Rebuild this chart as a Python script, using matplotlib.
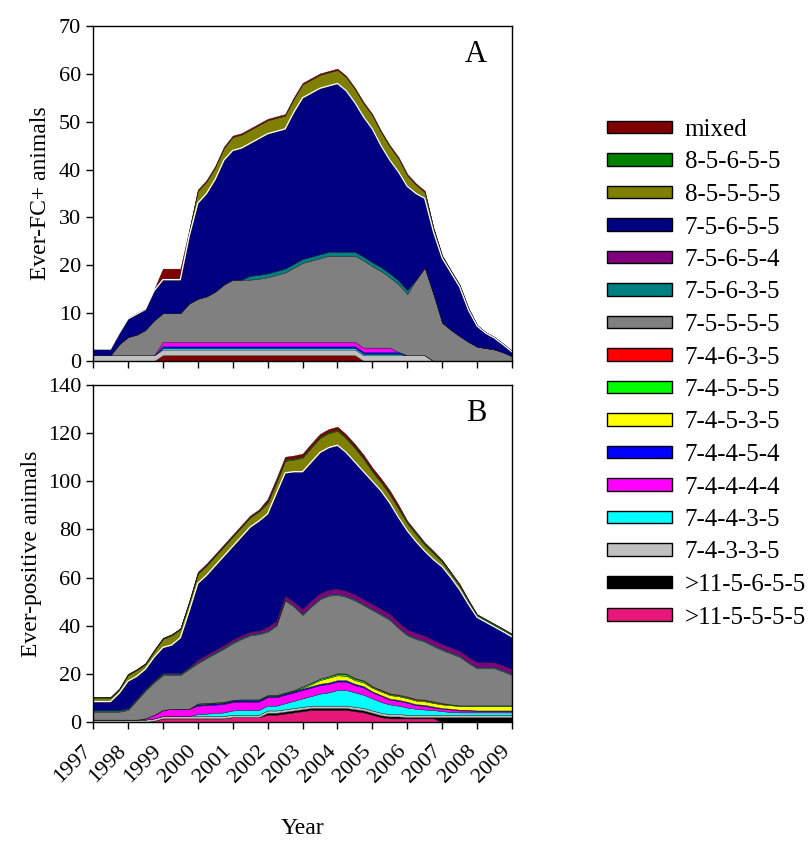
import numpy as np
import matplotlib
matplotlib.use("Agg")
import matplotlib.pyplot as plt
from matplotlib.patches import Patch
from matplotlib.transforms import ScaledTranslation

plt.rcParams['font.family'] = ['Liberation Serif', 'DejaVu Serif']

# quarterly time points 1997.00 ... 2009.00
quarters = np.linspace(1997, 2009, 49)
year_ticks = list(range(1997, 2010))

# legend (top to bottom) and colours
labels = ["mixed", "8-5-6-5-5", "8-5-5-5-5", "7-5-6-5-5", "7-5-6-5-4", "7-5-6-3-5",
          "7-5-5-5-5", "7-4-6-3-5", "7-4-5-5-5", "7-4-5-3-5", "7-4-4-5-4", "7-4-4-4-4",
          "7-4-4-3-5", "7-4-3-3-5", ">11-5-6-5-5", ">11-5-5-5-5"]
colors = ["#800000", "#008000", "#808000", "#000080", "#800080", "#008080",
          "#808080", "#ff0000", "#00ff00", "#ffff00", "#0000ff", "#ff00ff",
          "#00ffff", "#c0c0c0", "#000000", "#e8187a"]
col = dict(zip(labels, colors))

# ---- Panel A : Ever-FC+ animals (stack layers, bottom to top) ----
a_mixed_low = [0]*8 + [1.2]*23 + [0]*18
a_7_4_3_3_5 = [1.2]*39 + [0]*10
a_7_4_4_3_5 = [0]*8 + [0.3]*28 + [0]*13
a_7_4_4_5_4 = [0]*8 + [0.4]*28 + [0]*13
a_7_4_4_4_4 = [0]*8 + [0.9]*27 + [0]*14
a_7_5_5_5_5 = [0, 0, 0, 2.3, 3.8, 4.3, 5.3, 7.3, 6.0, 6.0, 6.0, 8.0,
               9.0, 9.5, 10.5, 12.0, 13.0, 13.0, 13.0, 13.2, 13.5, 14.0, 14.5, 15.5,
               16.5, 17.0, 17.5, 18.0, 18.0, 18.0, 18.0, 18.2, 17.0, 16.0, 14.7, 14.1,
               12.8, 15.8, 18.3, 14.0, 8.0, 6.5, 5.2, 4.0, 3.0, 2.7, 2.4, 1.8, 1.0]
a_7_5_6_3_5 = [0]*18 + [0.8]*19 + [0]*12
a_7_5_6_5_5 = [1.3, 1.3, 1.3, 2.3, 3.8, 4.3, 4.3, 6.2, 7.0, 7.0, 7.0, 14.0,
               20.0, 21.5, 23.5, 26.0, 27.0, 27.5, 27.7, 28.5, 29.2, 29.2, 29.2, 31.7,
               33.7, 34.2, 34.7, 34.7, 35.2, 33.7, 31.2, 29.2, 27.9, 25.4, 23.7, 22.7,
               21.7, 18.0, 14.5, 13.0, 13.5, 12.0, 10.3, 6.7, 4.3, 3.1, 2.4, 1.6, 0.9]
a_8_5_5_5_5 = ([0, 0, 0, 0.2, 0.2, 0.2, 0.2, 0.3, 0.3, 0.3, 0.3, 1.0,
                2.5, 2.5, 2.5, 2.5] + [2.8]*20 +
               [2.3, 1.8, 1.3, 0.8, 0.5, 0.4, 0.4, 0.4, 0.2, 0.2, 0.2, 0.2, 0.2])
a_mixed_top = [0]*8 + [2.0]*3 + [0.3]*28 + [0]*10

# ---- Panel B : Ever-positive animals (stack layers, bottom to top) ----
b_11_5_5_5_5 = [0, 0, 0, 0, 0, 0, 0, 0.5, 1.5, 1.5, 1.5, 1.5,
                1.5, 1.5, 1.5, 1.5, 2, 2, 2, 2, 3, 3, 3.5, 4,
                4.5, 5, 5, 5, 5, 5, 4.5, 4, 3, 2, 1.5, 1.5,
                1.5, 1.5, 1.5, 1.5, 0, 0, 0, 0, 0, 0, 0, 0, 0]
b_11_5_6_5_5 = [0]*20 + [0.8]*16 + [0.5]*4 + [2.0]*9
b_7_4_3_3_5 = [1.0]*49
b_7_4_4_3_5 = [0]*12 + [0.8, 1, 1.2, 1.5, 1.8, 2, 2, 2, 2, 2, 2.5, 3,
                        3.5, 4, 5, 5.5, 6.5, 6.5, 6, 5.5, 5, 4.5, 4, 3.5,
                        3, 2.5, 2.2, 2, 1.5, 1.2, 1, 1, 1, 1, 1, 1, 1]
b_7_4_4_4_4 = [0, 0, 0, 0, 0, 0, 0.5, 1.5, 2.5, 3, 3, 3,
               3.5, 3.5, 3.5, 3.5, 3.5, 3.5, 3.5, 3.5, 3.5, 3.5, 3.5, 3.5,
               3.5, 3.5, 3.5, 3.5, 3.5, 3.5, 3, 3, 2.5, 2.5, 2, 2,
               2, 1.5, 1.5, 1, 1, 1, 0.8, 0.8, 0.5, 0.5, 0.5, 0.5, 0.5]
b_7_4_4_5_4 = [0]*12 + [0.6]*20 + [0.4]*8 + [0.3]*9
b_7_4_5_3_5 = [0]*24 + [0.3, 0.8, 1.5, 2, 2, 1.8, 1.5, 1.5, 1.5, 1.5, 1.5, 1.5,
                        1.5, 1.5, 1.5, 1.5, 1.5, 1.5, 1.5, 1.5, 1.8, 1.8, 1.8, 1.8, 1.8]
b_7_4_5_5_5 = [0]*12 + [0.3]*12 + [0.6]*8 + [0.4]*8 + [0.3]*9
b_7_4_6_3_5 = [0]*28 + [0.3]*13 + [0]*8
b_7_5_5_5_5 = [3.3, 3.3, 3.3, 3.3, 4.0, 8.0, 11.5, 13.5, 14.5, 14.0, 14.0, 16.5,
               16.7, 18.6, 20.4, 22.1, 23.5, 25.1, 26.6, 27.1, 26.3, 28.8, 38.3, 34.8,
               29.7, 31.7, 33.0, 33.5, 32.5, 31.9, 32.2, 31.2, 31.6, 31.1, 30.5, 27.6,
               25.4, 24.9, 24.1, 22.9, 22.0, 21.2, 20.2, 17.6, 15.4, 15.4, 15.4, 14.1, 12.6]
b_7_5_6_3_5 = [0.5]*49
b_7_5_6_5_4 = [0.3]*12 + [1.0]*8 + [1.5]*4 + [2.0]*25
b_7_5_6_5_5 = [3.4, 3.4, 3.4, 6.9, 11.2, 9.2, 8.2, 9.7, 10.7, 11.7, 14.7, 23.2,
               31.7, 33.0, 35.0, 37.0, 38.8, 41.0, 43.5, 45.5, 47.0, 53.0, 51.0, 54.0,
               57.0, 57.5, 58.5, 59.0, 59.7, 57.5, 55.0, 53.0, 51.0, 49.0, 46.1, 43.5,
               41.0, 38.0, 35.1, 33.5, 32.1, 29.0, 25.4, 22.0, 18.7, 16.7, 14.7, 14.0, 13.4]
b_8_5_5_5_5 = [1.5, 1.5, 1.5, 1.5, 2.5, 2.5, 2, 2.5, 3.5, 4, 3.5, 3.5,
               4, 4, 4, 4, 4, 4, 4, 4, 4.5, 4.5, 5, 5,
               5.8, 6, 6, 6, 6, 5.8, 5.8, 5.3, 4, 3.5, 3.5, 3.5,
               3, 3, 2.5, 2.5, 2, 1.5, 1.5, 1, 0.5, 0.5, 0.5, 0.5, 0.5]
b_8_5_6_5_5 = [0.3]*20 + [0.5]*16 + [0.6]*13
b_mixed = [0.1]*4 + [0.2]*8 + [0.5]*8 + [1.2]*16 + [0.5]*4 + [0.2]*9

layers_a = [(a_mixed_low, "mixed"), (a_7_4_3_3_5, "7-4-3-3-5"), (a_7_4_4_3_5, "7-4-4-3-5"),
            (a_7_4_4_5_4, "7-4-4-5-4"), (a_7_4_4_4_4, "7-4-4-4-4"), (a_7_5_5_5_5, "7-5-5-5-5"),
            (a_7_5_6_3_5, "7-5-6-3-5"), (a_7_5_6_5_5, "7-5-6-5-5"), (a_8_5_5_5_5, "8-5-5-5-5"),
            (a_mixed_top, "mixed")]
layers_b = [(b_11_5_5_5_5, ">11-5-5-5-5"), (b_11_5_6_5_5, ">11-5-6-5-5"), (b_7_4_3_3_5, "7-4-3-3-5"),
            (b_7_4_4_3_5, "7-4-4-3-5"), (b_7_4_4_4_4, "7-4-4-4-4"), (b_7_4_4_5_4, "7-4-4-5-4"),
            (b_7_4_5_3_5, "7-4-5-3-5"), (b_7_4_5_5_5, "7-4-5-5-5"), (b_7_4_6_3_5, "7-4-6-3-5"),
            (b_7_5_5_5_5, "7-5-5-5-5"), (b_7_5_6_3_5, "7-5-6-3-5"), (b_7_5_6_5_4, "7-5-6-5-4"),
            (b_7_5_6_5_5, "7-5-6-5-5"), (b_8_5_5_5_5, "8-5-5-5-5"), (b_8_5_6_5_5, "8-5-6-5-5"),
            (b_mixed, "mixed")]

fig = plt.figure(figsize=(8.11, 8.44), dpi=100)
W, H = 811, 844
axA = fig.add_axes([93/W, 1 - 361/H, 419/W, 335/H])
axB = fig.add_axes([93/W, 1 - 722/H, 419/W, 337/H])


def draw(ax, layers):
    vals = [np.array(v, dtype=float) for v, _ in layers]
    cols = [col[name] for _, name in layers]
    ax.stackplot(quarters, *vals, colors=cols, edgecolor="#1a1a1a", linewidth=0.3)
    # white line along the top of the 7-5-6-5-5 layer
    names = [n for _, n in layers]
    k = names.index("7-5-6-5-5")
    top = np.sum(vals[:k + 1], axis=0)
    ax.plot(quarters, top, color="white", lw=0.9)
    ax.set_xlim(1997, 2009)
    ax.set_xticks(year_ticks)
    ax.tick_params(direction="out", length=5, width=1, labelsize=16, color="black")
    for s in ax.spines.values():
        s.set_linewidth(1)


draw(axA, layers_a)
axA.set_ylim(0, 70)
axA.set_yticks(range(0, 71, 10))
axA.set_xticklabels([])
axA.set_ylabel("Ever-FC+ animals", fontsize=17, labelpad=6)
axA.text(0.94, 0.915, "A", transform=axA.transAxes, fontsize=22, ha="right", va="center")

draw(axB, layers_b)
axB.set_ylim(0, 140)
axB.set_yticks(range(0, 141, 20))
axB.set_xticklabels([str(y) for y in year_ticks], rotation=45, ha="right", va="top",
                    rotation_mode="anchor", fontsize=16)
axB.tick_params(axis="x", pad=9)
shift = ScaledTranslation(-11/100, 0, fig.dpi_scale_trans)
for lab in axB.get_xticklabels():
    lab.set_transform(lab.get_transform() + shift)
axB.set_ylabel("Ever-positive animals", fontsize=17, labelpad=4)
fig.text(302/W, 1 - 829/H, "Year", fontsize=17, ha="center", va="center")
axB.text(0.94, 0.915, "B", transform=axB.transAxes, fontsize=22, ha="right", va="center")

handles = [Patch(facecolor=c, edgecolor="black", linewidth=1) for c in colors]
fig.legend(handles, labels, loc="upper left", bbox_to_anchor=(597/W, 1 - 109/H),
           frameon=False, fontsize=18, handlelength=2.6, handleheight=0.4,
           labelspacing=0.42, handletextpad=0.5, borderaxespad=0)

fig.savefig("out.png", dpi=100)
